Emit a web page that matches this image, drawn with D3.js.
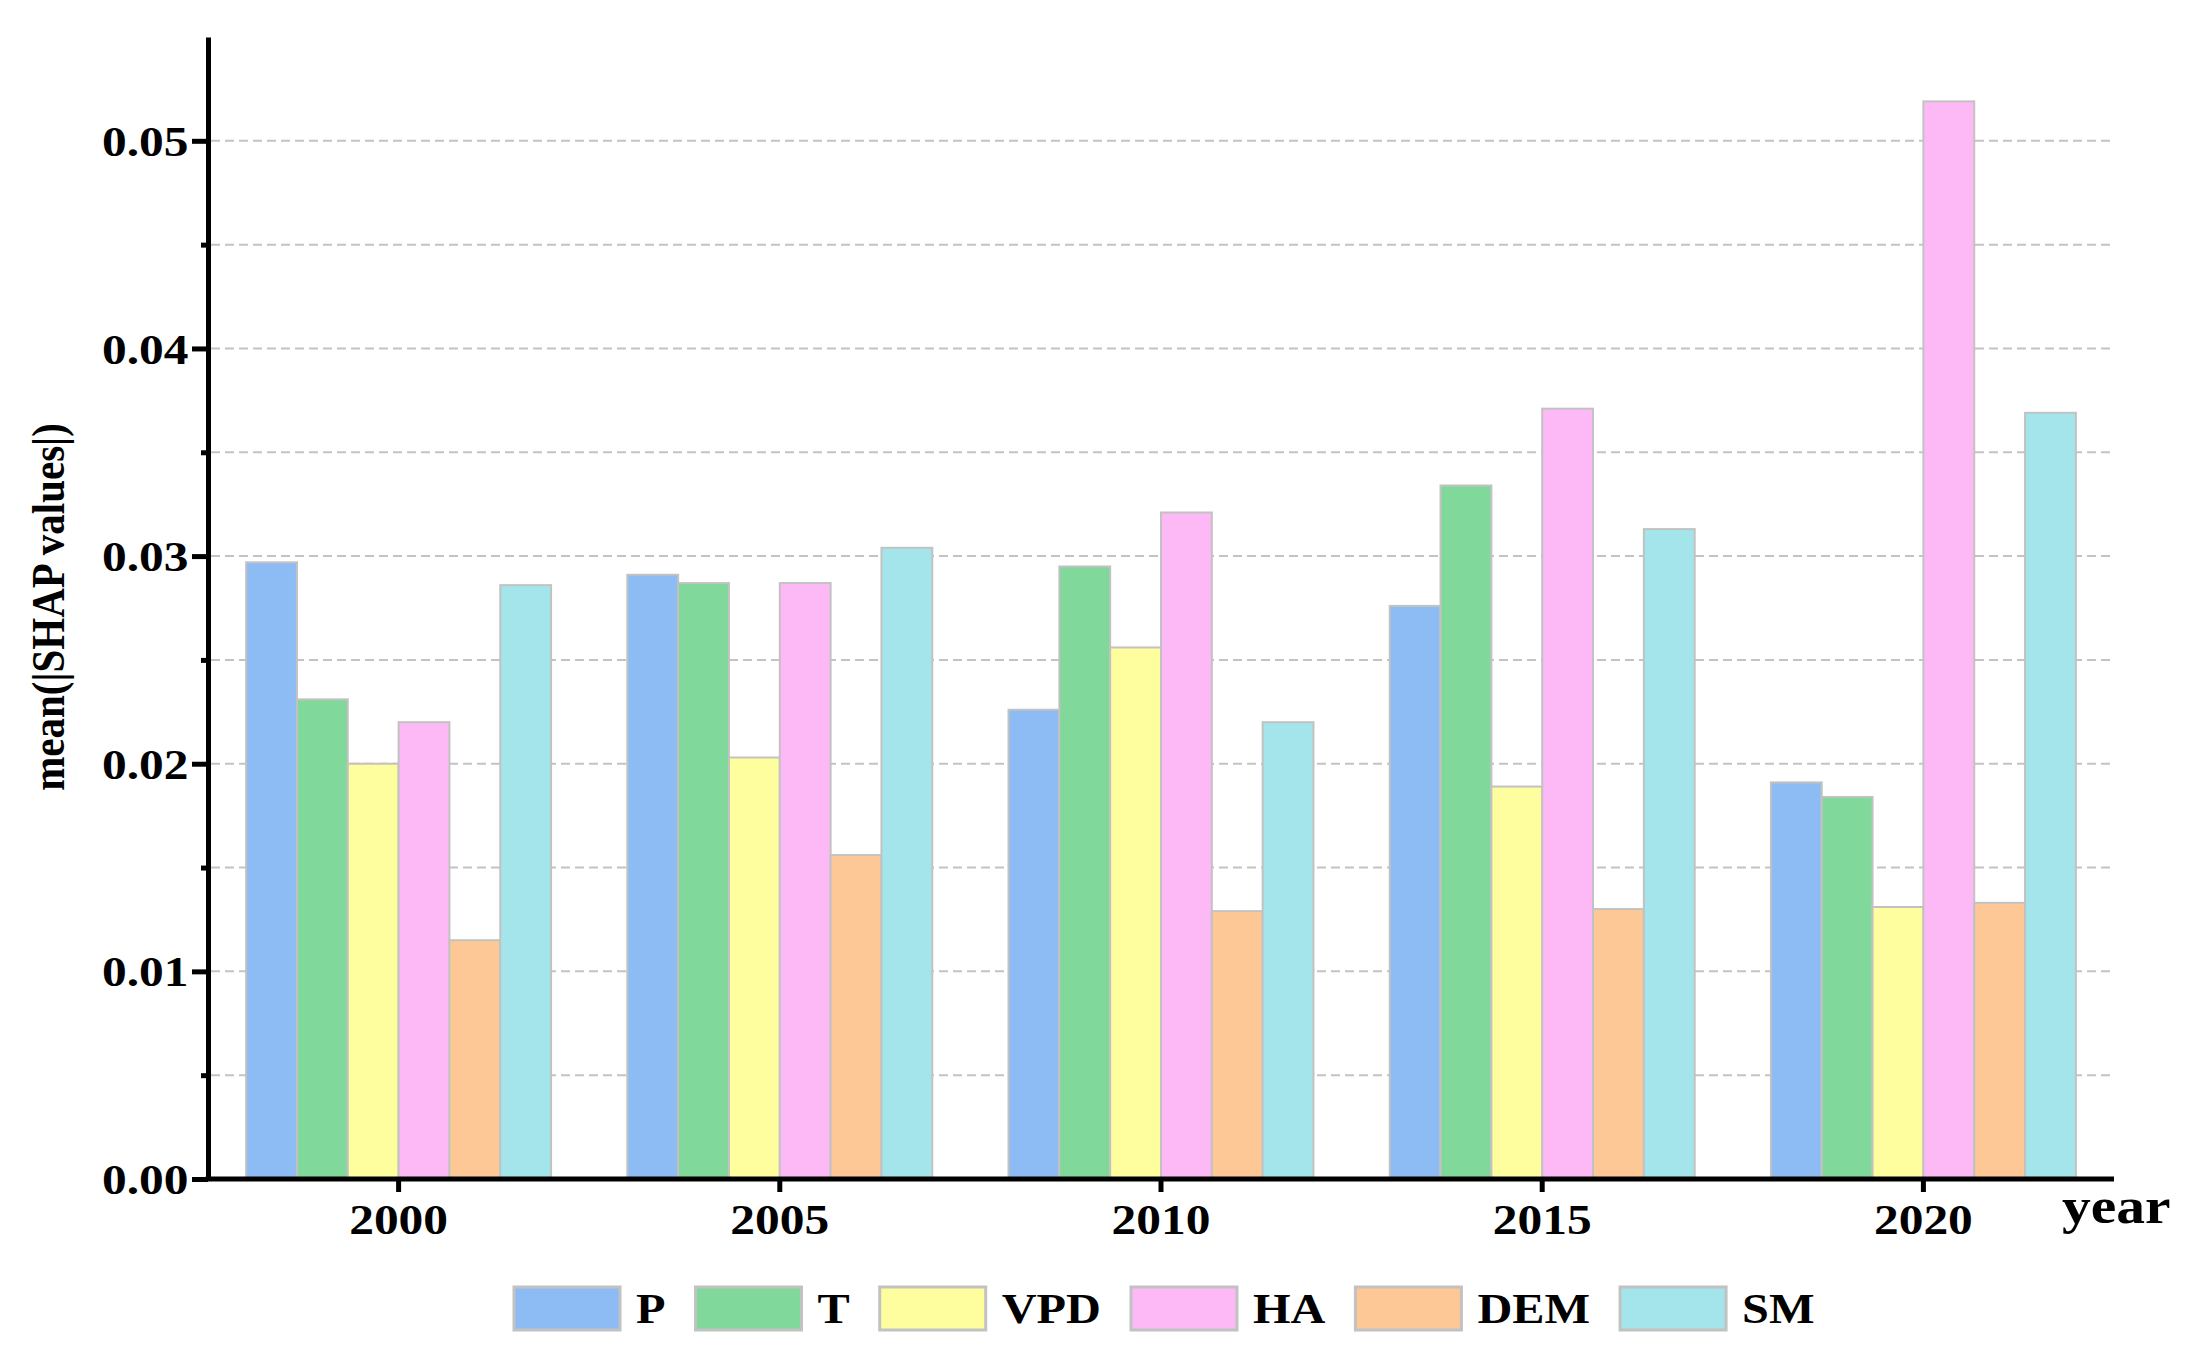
<!DOCTYPE html>
<html>
<head>
<meta charset="utf-8">
<script src="https://cdn.jsdelivr.net/npm/d3@7"></script>
<style>
  body { margin: 0; background: #fff; }
  text { font-family: "Liberation Serif", "Times New Roman", serif; font-weight: bold; fill: #000; }
</style>
</head>
<body>
<div id="chart"></div>
<script>
// chart data
var years = ["2000", "2005", "2010", "2015", "2020"];
var factors = ["P", "T", "VPD", "HA", "DEM", "SM"];
var P   = [0.0297, 0.0291, 0.0226, 0.0276, 0.0191];
var T   = [0.0231, 0.0287, 0.0295, 0.0334, 0.0184];
var VPD = [0.0200, 0.0203, 0.0256, 0.0189, 0.0131];
var HA  = [0.0220, 0.0287, 0.0321, 0.0371, 0.0519];
var DEM = [0.0115, 0.0156, 0.0129, 0.0130, 0.0133];
var SM  = [0.0286, 0.0304, 0.0220, 0.0313, 0.0369];
var colors = ["#8DBCF4", "#80D89A", "#FFFE9E", "#FDB8F6", "#FEC896", "#A3E5EA"];
var majorTicks = [0, 0.01, 0.02, 0.03, 0.04, 0.05];
var minorTicks = [0.005, 0.015, 0.025, 0.035, 0.045];
var gridTicks = [0.005, 0.01, 0.015, 0.02, 0.025, 0.03, 0.035, 0.04, 0.045, 0.05];
var yTitle = "mean(|SHAP values|)";
var xTitle = "year";

var series = { P: P, T: T, VPD: VPD, HA: HA, DEM: DEM, SM: SM };

var svgWidth = 2185, svgHeight = 1347;
// plot box edges (don't call it "top", that's window.top)
var plotLeft = 208, plotRight = 2114, plotTop = 37, plotBottom = 1179;
var stretch = 1.15; // the text in the picture is a bit wide

var svg = d3.select("#chart").append("svg")
    .attr("width", svgWidth)
    .attr("height", svgHeight);

// scales
var x0 = d3.scaleBand().domain(years).range([plotLeft, plotRight])
    .paddingInner(0.2).paddingOuter(0.1);
var x1 = d3.scaleBand().domain(factors).range([0, x0.bandwidth()]);
var y = d3.scaleLinear().domain([0, 0.055]).range([plotBottom, plotTop]);
var color = d3.scaleOrdinal().domain(factors).range(colors);

// dashed grid
svg.append("g").selectAll("line")
    .data(gridTicks)
    .enter().append("line")
    .attr("x1", plotLeft + 3).attr("x2", plotRight)
    .attr("y1", d => y(d)).attr("y2", d => y(d))
    .attr("stroke", "#c3c3c3")
    .attr("stroke-width", 2)
    .attr("stroke-dasharray", "9,5");

// bars
var rows = [];
years.forEach(function(yr, i) {
    factors.forEach(function(f) {
        rows.push({ year: yr, key: f, value: series[f][i] });
    });
});

svg.append("g").selectAll("rect")
    .data(rows)
    .enter().append("rect")
    .attr("x", d => x0(d.year) + x1(d.key))
    .attr("y", d => y(d.value))
    .attr("width", x1.bandwidth())
    .attr("height", d => y(0) - y(d.value))
    .attr("fill", d => color(d.key))
    .attr("stroke", "#c2c2c2")
    .attr("stroke-width", 2);

// y axis, minor ticks first
svg.append("g")
    .attr("transform", `translate(${plotLeft},0)`)
    .call(d3.axisLeft(y).tickValues(minorTicks).tickSize(7).tickFormat(""))
    .call(g => g.select(".domain").remove())
    .selectAll("line").attr("stroke", "#000").attr("stroke-width", 5);

var yAxis = svg.append("g")
    .attr("transform", `translate(${plotLeft},0)`)
    .call(d3.axisLeft(y).tickValues(majorTicks).tickSize(16).tickSizeOuter(0)
        .tickFormat(d3.format(".2f")));
yAxis.select(".domain").attr("stroke", "#000").attr("stroke-width", 5);
yAxis.selectAll("line").attr("stroke", "#000").attr("stroke-width", 5);
yAxis.selectAll("text")
    .attr("font-size", 43)
    .attr("x", -17)
    .attr("dy", "0.34em")
    .attr("transform", `scale(${stretch},1)`);

// x axis
var xAxis = svg.append("g")
    .attr("transform", `translate(0,${plotBottom})`)
    .call(d3.axisBottom(x0).tickSize(13).tickSizeOuter(0));
xAxis.select(".domain").attr("stroke", "#000").attr("stroke-width", 5)
    .attr("d", `M${plotLeft - 2.5},0H${plotRight}`);
xAxis.selectAll("line").attr("stroke", "#000").attr("stroke-width", 5);
xAxis.selectAll("text")
    .attr("font-size", 43)
    .attr("y", 55)
    .attr("dy", 0)
    .attr("transform", `scale(${stretch},1)`);

// axis titles
svg.append("text")
    .attr("transform", `translate(2062,1223) scale(${stretch},1)`)
    .attr("font-size", 50)
    .text(xTitle);

svg.append("text")
    .attr("transform", `translate(64,607) scale(${stretch},1) rotate(-90)`)
    .attr("text-anchor", "middle")
    .attr("font-size", 41)
    .text(yTitle);

// legend
var legend = svg.append("g").attr("transform", "translate(514,1287)");
var lx = 0;
factors.forEach(function(f) {
    legend.append("rect")
        .attr("x", lx).attr("y", 0)
        .attr("width", 106).attr("height", 43)
        .attr("fill", color(f))
        .attr("stroke", "#c2c2c2")
        .attr("stroke-width", 3);
    var t = legend.append("text")
        .attr("transform", `translate(${lx + 122},36) scale(${stretch},1)`)
        .attr("font-size", 42)
        .text(f);
    lx += 122 + t.node().getComputedTextLength() * stretch + 30;
});
</script>
</body>
</html>
